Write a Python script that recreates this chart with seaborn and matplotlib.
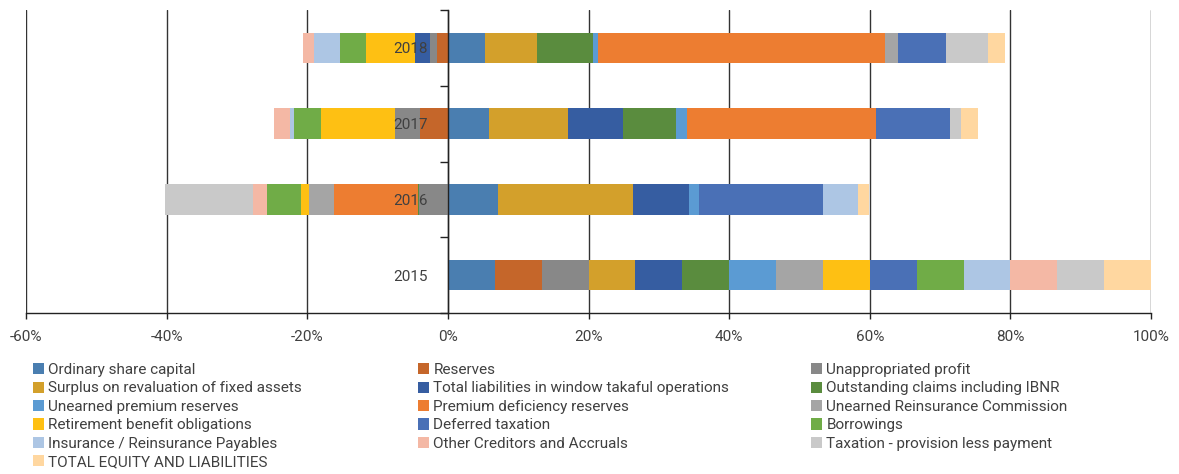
import matplotlib
matplotlib.use("Agg")
import matplotlib.pyplot as plt
from matplotlib.patches import Patch
import seaborn as sns
import numpy as np

# ---------------- data (percent) ----------------
years = ["2018", "2017", "2016", "2015"]

series_names = [
    "Ordinary share capital",
    "Reserves",
    "Unappropriated profit",
    "Surplus on revaluation of fixed assets",
    "Total liabilities in window takaful operations",
    "Outstanding claims including IBNR",
    "Unearned premium reserves",
    "Premium deficiency reserves",
    "Unearned Reinsurance Commission",
    "Retirement benefit obligations",
    "Deferred taxation",
    "Borrowings",
    "Insurance / Reinsurance Payables",
    "Other Creditors and Accruals",
    "Taxation - provision less payment",
    "TOTAL EQUITY AND LIABILITIES",
]

# values in order of `years`
ordinary_share_capital = [5.3, 5.9, 7.15, 6.667]
reserves = [-1.5, -3.9, 0.0, 6.667]
unappropriated_profit = [-1.1, -3.55, -4.1, 6.667]
surplus_revaluation = [7.35, 11.2, 19.2, 6.667]
window_takaful = [-2.1, 7.8, 7.95, 6.667]
outstanding_claims = [8.0, 7.6, -0.1, 6.667]
unearned_premium = [0.75, 1.5, 1.4, 6.667]
premium_deficiency = [40.8, 26.9, -12.0, 0.0]
unearned_ri_commission = [1.75, 0.0, -3.5, 6.667]
retirement_benefit = [-7.0, -10.6, -1.15, 6.667]
deferred_taxation = [6.95, 10.5, 17.6, 6.667]
borrowings = [-3.65, -3.85, -4.85, 6.667]
insurance_payables = [-3.7, -0.55, 5.0, 6.667]
other_creditors = [-1.55, -2.3, -2.0, 6.667]
taxation_provision = [5.85, 1.55, -12.5, 6.667]
total_equity_liabilities = [2.55, 2.4, 1.6, 6.667]

series_values = [
    ordinary_share_capital, reserves, unappropriated_profit, surplus_revaluation,
    window_takaful, outstanding_claims, unearned_premium, premium_deficiency,
    unearned_ri_commission, retirement_benefit, deferred_taxation, borrowings,
    insurance_payables, other_creditors, taxation_provision, total_equity_liabilities,
]

colors = [
    "#4a7eb0", "#c5662a", "#888888", "#d3a02b",
    "#365da1", "#5a8c3e", "#5b9bd3", "#ed7d31",
    "#a5a5a5", "#fec013", "#4a70b6", "#70ac47",
    "#adc6e4", "#f4b8a5", "#c9c9c9", "#ffd7a0",
]

x_ticks = [-60, -40, -20, 0, 20, 40, 60, 80, 100]
x_tick_labels = ["-60%", "-40%", "-20%", "0%", "20%", "40%", "60%", "80%", "100%"]

# ---------------- style ----------------
sns.set_theme(style="white")
FAM = ["DejaVu Sans Condensed", "Roboto", "DejaVu Sans"]
plt.rcParams["font.family"] = FAM
TXT = "#404040"

fig = plt.figure(figsize=(11.79, 4.74), dpi=100)
ax = fig.add_axes([26 / 1179, 1 - 313 / 474, (1151 - 26) / 1179, (313 - 10) / 474])

pos_cum = np.zeros(len(years))
neg_cum = np.zeros(len(years))
handles = []
for name, vals, col in zip(series_names, series_values, colors):
    v = np.array(vals, dtype=float)
    left = np.where(v >= 0, pos_cum, neg_cum)
    sns.barplot(x=v, y=years, order=years, orient="h", left=left,
                color=col, width=0.4, errorbar=None, linewidth=0,
                saturation=1, ax=ax, zorder=2)
    pos_cum = pos_cum + np.where(v >= 0, v, 0)
    neg_cum = neg_cum + np.where(v < 0, v, 0)
    handles.append(Patch(facecolor=col, edgecolor="none", label=name))

ax.set_xlim(-60, 100)
ax.set_ylim(3.5, -0.5)
ax.set_xticks(x_ticks)
ax.set_xticklabels(x_tick_labels)
ax.set_xlabel("")
ax.set_ylabel("")

# gridlines
ax.set_axisbelow(True)
ax.xaxis.grid(True, color="#333333", linewidth=1.0)
ax.yaxis.grid(False)

# spines
for s in ["top", "right"]:
    ax.spines[s].set_visible(False)
ax.spines["bottom"].set_color("#222222")
ax.spines["bottom"].set_linewidth(1.0)
ax.spines["left"].set_position(("data", 0))
ax.spines["left"].set_color("#222222")
ax.spines["left"].set_linewidth(1.0)
ax.spines["left"].set_zorder(6)

# y ticks: boundaries (major) + labels at centers (minor)
ax.set_yticks([-0.5, 0.5, 1.5, 2.5, 3.5])
ax.set_yticklabels([])
ax.set_yticks([0, 1, 2, 3], minor=True)
ax.set_yticklabels(years, minor=True)
ax.tick_params(axis="y", which="major", left=True, length=5.8, width=1.0, color="#222222")
ax.tick_params(axis="y", which="minor", left=True, length=0, pad=14.5,
               labelsize=11, labelcolor=TXT)
ax.yaxis.set_zorder(7)

ax.tick_params(axis="x", which="major", bottom=True, length=4.5, width=1.0,
               color="#222222", pad=8, labelsize=11, labelcolor=TXT)

# ---------------- legend: 3 columns, row-major ----------------
col_x = [33 / 1179, 418 / 1179, 811 / 1179]
for c in range(3):
    idx = list(range(c, len(handles), 3))
    leg = fig.legend(handles=[handles[i] for i in idx], loc="upper left",
                     bbox_to_anchor=(col_x[c], 1 - 363 / 474), frameon=False,
                     fontsize=11, handlelength=0.75, handleheight=0.75,
                     handletextpad=0.25, labelspacing=0.29, borderpad=0,
                     borderaxespad=0)
    for t in leg.get_texts():
        t.set_color(TXT)

fig.savefig("out.png", dpi=100)
